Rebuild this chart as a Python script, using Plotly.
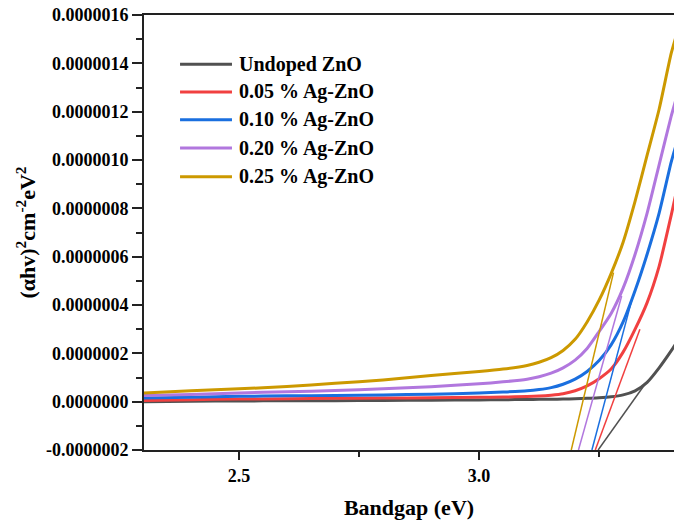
import plotly.graph_objects as go

# Photon energy grid (eV)
energy = [2.30, 2.40, 2.50, 2.60, 2.70, 2.80, 2.90, 3.00, 3.05, 3.10, 3.125,
          3.15, 3.175, 3.20, 3.225, 3.25, 3.275, 3.30, 3.325, 3.35, 3.375,
          3.40, 3.41]

# (alpha h nu)^2 values in units of 1e-7 cm^-2 eV^2
undoped = [0.00, 0.02, 0.03, 0.035, 0.04, 0.05, 0.06, 0.07, 0.08, 0.09, 0.095,
           0.10, 0.11, 0.12, 0.14, 0.16, 0.20, 0.28, 0.45, 0.80, 1.40,
           2.10, 2.40]
ag005 = [0.05, 0.08, 0.11, 0.12, 0.14, 0.15, 0.16, 0.18, 0.19, 0.21, 0.23,
         0.27, 0.33, 0.45, 0.65, 0.95, 1.35, 2.05, 3.00, 4.10, 5.60,
         7.70, 8.60]
ag010 = [0.15, 0.18, 0.22, 0.24, 0.26, 0.28, 0.31, 0.36, 0.40, 0.45, 0.50,
         0.58, 0.72, 0.93, 1.25, 1.70, 2.35, 3.30, 4.60, 6.10, 7.80,
         9.90, 10.60]
ag020 = [0.25, 0.30, 0.36, 0.41, 0.46, 0.53, 0.62, 0.74, 0.82, 0.93, 1.03,
         1.18, 1.40, 1.72, 2.20, 2.90, 3.65, 4.70, 6.10, 7.80, 9.80,
         11.80, 12.50]
ag025 = [0.36, 0.45, 0.53, 0.63, 0.76, 0.90, 1.08, 1.25, 1.35, 1.50, 1.63,
         1.82, 2.12, 2.58, 3.30, 4.20, 5.30, 6.60, 8.30, 10.20, 12.10,
         14.40, 15.10]

series_names = ["Undoped ZnO", "0.05 % Ag-ZnO", "0.10 % Ag-ZnO",
                "0.20 % Ag-ZnO", "0.25 % Ag-ZnO"]
series_values = [undoped, ag005, ag010, ag020, ag025]
colors = ["#515151", "#F14040", "#1A6FDF", "#B177DE", "#CC9900"]

# Tauc extrapolation lines: endpoints (eV, units of 1e-7)
tangent_x_start = [3.248, 3.242, 3.235, 3.207, 3.192]
tangent_y_start = [-2.0, -2.0, -2.0, -2.0, -2.0]
tangent_x_end = [3.345, 3.335, 3.318, 3.297, 3.280]
tangent_y_end = [0.71, 3.00, 4.20, 4.37, 5.34]

UNIT = 1e-7

y_ticks = [-2e-7, 0, 2e-7, 4e-7, 6e-7, 8e-7, 10e-7, 12e-7, 14e-7, 16e-7]
y_tick_labels = ["-0.0000002", "0.0000000", "0.0000002", "0.0000004",
                 "0.0000006", "0.0000008", "0.0000010", "0.0000012",
                 "0.0000014", "0.0000016"]
x_ticks = [2.5, 3.0]
x_tick_labels = ["2.5", "3.0"]

FONT = "Liberation Serif"

fig = go.Figure()

for name, vals, col in zip(series_names, series_values, colors):
    fig.add_trace(go.Scatter(
        x=energy, y=[v * UNIT for v in vals], mode="lines", name=name,
        line=dict(color=col, width=3, shape="spline", smoothing=0.6),
        showlegend=False))

for i, col in enumerate(colors):
    fig.add_trace(go.Scatter(
        x=[tangent_x_start[i], tangent_x_end[i]],
        y=[tangent_y_start[i] * UNIT, tangent_y_end[i] * UNIT],
        mode="lines", line=dict(color=col, width=1.5), showlegend=False,
        hoverinfo="skip"))

# Custom legend (longer line samples than Plotly's native legend)
leg_y = [0.887, 0.823, 0.759, 0.694, 0.628]
shapes = []
annotations = []
for name, col, yy in zip(series_names, colors, leg_y):
    shapes.append(dict(type="line", xref="paper", yref="paper",
                       x0=0.068, x1=0.166, y0=yy, y1=yy,
                       line=dict(color=col, width=3)))
    annotations.append(dict(xref="paper", yref="paper", x=0.176, y=yy,
                            text=name, showarrow=False, xanchor="left",
                            yanchor="middle",
                            font=dict(family=FONT, size=20, color="black",
                                      weight="bold")))

fig.update_layout(
    width=674, height=520,
    margin=dict(l=144, r=0, t=15, b=70),
    paper_bgcolor="white", plot_bgcolor="white",
    shapes=shapes, annotations=annotations,
    showlegend=False,
    xaxis=dict(
        range=[2.302, 3.406], tickvals=x_ticks, ticktext=x_tick_labels,
        ticks="outside", ticklen=8, tickwidth=2, tickcolor="#222",
        showline=True, linewidth=2, linecolor="#222", mirror=True,
        showgrid=False, zeroline=False,
        minor=dict(dtick=0.25, tick0=2.25, ticks="outside", ticklen=5,
                   tickwidth=2, tickcolor="#222", showgrid=False),
        tickfont=dict(family=FONT, size=18, color="black", weight="bold"),
        title=dict(text="Bandgap (eV)", standoff=16,
                   font=dict(family=FONT, size=22, color="black",
                             weight="bold")),
    ),
    yaxis=dict(
        range=[-2e-7, 16e-7], tickvals=y_ticks, ticktext=y_tick_labels,
        ticks="outside", ticklen=10, tickwidth=2, tickcolor="#222",
        showline=True, linewidth=2, linecolor="#222", mirror=False,
        showgrid=False, zeroline=False,
        minor=dict(dtick=1e-7, tick0=-2e-7, ticks="outside", ticklen=6,
                   tickwidth=2, tickcolor="#222", showgrid=False),
        tickfont=dict(family=FONT, size=18, color="black", weight="bold"),
        title=dict(text="(αhv)<sup>2</sup>cm<sup>-2</sup>eV<sup>2</sup>",
                   standoff=4,
                   font=dict(family=FONT, size=22, color="black",
                             weight="bold")),
    ),
)

# remove the default page margin so the 674x520 figure fills the window
fig.write_html(
    "out.html",
    config={"displayModeBar": False},
    post_script="document.body.style.margin='0';"
                "document.body.style.overflow='hidden';")
